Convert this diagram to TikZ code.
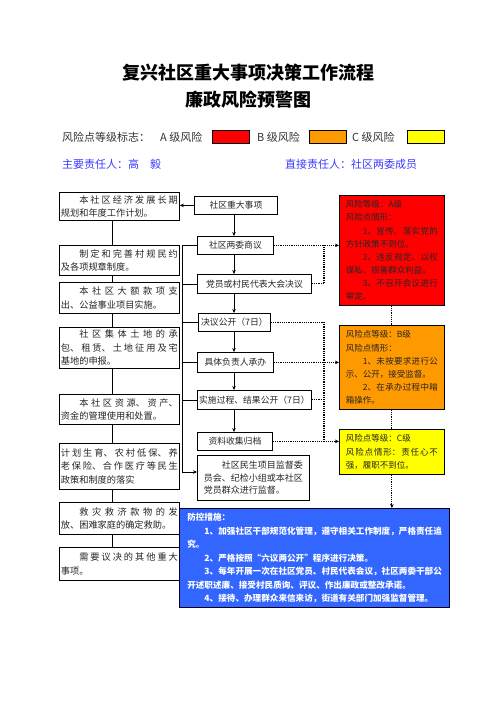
\documentclass[tikz,border=0pt]{standalone}
\usepackage{fontspec}
\setmainfont{Noto Sans CJK SC}
\usetikzlibrary{arrows.meta}
\XeTeXlinebreaklocale "zh"
\XeTeXlinebreakskip=0pt plus 3pt
\definecolor{riskA}{RGB}{255,0,0}
\definecolor{riskB}{RGB}{255,153,0}
\definecolor{riskC}{RGB}{255,255,0}
\definecolor{blueblock}{RGB}{51,102,255}
\definecolor{leadblue}{RGB}{60,60,255}
\tikzset{
  lbox/.style={draw, line width=0.8pt, fill=white, anchor=north west, inner xsep=1.5pt, inner ysep=0pt,
    minimum width=120, text width=117, align=justify, font=\fontsize{9.2}{13.5}\selectfont, text=black!85},
  mbox/.style={draw, line width=0.8pt, fill=white, anchor=north west, inner sep=0pt, align=center,
    font=\fontsize{8.8}{12}\selectfont, text=black!85},
  rbox/.style={draw, line width=0.8pt, anchor=north west, inner xsep=6.5pt, inner ysep=0pt,
    minimum width=105, text width=92, align=justify, font=\fontsize{8.5}{13.1}\selectfont, text=black!85},
  legbox/.style={draw, line width=0.8pt, anchor=north west, minimum width=37, minimum height=13, inner sep=0pt},
  legtext/.style={anchor=west, inner sep=0pt, font=\fontsize{11}{13}\selectfont, text=black!80},
  leadtext/.style={anchor=west, inner sep=0pt, font=\fontsize{11}{13}\selectfont, text=leadblue},
  conn/.style={line width=0.8pt},
  arr/.style={-{Stealth[length=4pt,width=3.5pt]}, line width=0.8pt},
  dotline/.style={line width=1.1pt, dash pattern=on 1.1pt off 1.1pt},
}
\begin{document}
\begin{tikzpicture}[x=1pt,y=-1pt]
\useasboundingbox (0,0) rectangle (496,702);
\fill[white] (0,0) rectangle (496,702);

% title
\node[font=\fontsize{18}{22}\bfseries, inner sep=0pt] (t1) at (248,73) {复兴社区重大事项决策工作流程};
\node[font=\fontsize{18}{22}\bfseries, inner sep=0pt] (t2) at (248,100) {廉政风险预警图};

% legend
\node[legtext] (lg0) at (62,137) {风险点等级标志：};
\node[legtext] (lgA) at (160,137) {A 级风险};
\node[legbox, fill=riskA] (bxA) at (212,130) {};
\node[legtext] (lgB) at (257,137) {B 级风险};
\node[legbox, fill=riskB] (bxB) at (309,130) {};
\node[legtext] (lgC) at (352,137) {C 级风险};
\node[legbox, fill=riskC] (bxC) at (407,130) {};
\node[leadtext] (lead1) at (62,164) {主要责任人：高　毅};
\node[leadtext] (lead2) at (285,164) {直接责任人：社区两委成员};

% left column
\node[lbox, minimum height=28] (L1) at (59,192) {\hspace*{2em}本社区经济发展长期\linebreak 规划和年度工作计划。};
\node[lbox, minimum height=30] (L2) at (59,245) {\hspace*{2em}制定和完善村规民约\linebreak 及各项规章制度。};
\node[lbox, minimum height=31] (L3) at (59,282) {\hspace*{2em}本社区大额款项支\linebreak 出、公益事业项目实施。};
\node[lbox, minimum height=41] (L4) at (59,327) {\hspace*{2em}社区集体土地的承\linebreak 包、租赁、土地征用及宅\linebreak 基地的申报。};
\node[lbox, minimum height=30] (L5) at (59,394) {\hspace*{2em}本社区资源、资产、\linebreak 资金的管理使用和处置。};
\node[lbox, minimum height=46] (L6) at (59,443) {计划生育、农村低保、养\linebreak 老保险、合作医疗等民生\linebreak 政策和制度的落实};
\node[lbox, minimum height=32] (L7) at (59,502) {\hspace*{2em}救灾救济款物的发\linebreak 放、困难家庭的确定救助。};
\node[lbox, minimum height=33] (L8) at (59,547) {\hspace*{2em}需要议决的其他重大\linebreak 事项。};

% middle column
\node[mbox, minimum width=83, minimum height=18] (M1) at (194,196) {社区重大事项};
\node[mbox, minimum width=76, minimum height=18] (M2) at (197,236) {社区两委商议};
\node[mbox, minimum width=114, minimum height=19] (M3) at (197,274) {党员或村民代表大会决议};
\node[mbox, minimum width=72, minimum height=18] (M4) at (198,313) {决议公开（7日）};
\node[mbox, minimum width=76, minimum height=20] (M5) at (197,352) {具体负责人承办};
\node[mbox, minimum width=114, minimum height=19] (M6) at (197,390) {实施过程、结果公开（7日）};
\node[mbox, minimum width=75, minimum height=18] (M7) at (197,432) {资料收集归档};
\node[lbox, minimum width=112, text width=99, inner xsep=6.5pt, minimum height=45,
  font=\fontsize{9}{12.5}\selectfont] (M8) at (197,455) {\hspace*{2em}社区民生项目监督委\linebreak 员会、纪检小组或本社区\linebreak 党员群众进行监督。};

% right column
\node[rbox, fill=riskA, minimum height=110] (R1) at (339,195) {风险等级：A级\\风险点情形：\\\hspace*{2em}1、宣传、落实党的\linebreak 方针政策不到位。\\\hspace*{2em}2、违反规定、以权\linebreak 谋私、损害群众利益。\\\hspace*{2em}3、不召开会议进行\linebreak 审定。};
\node[rbox, fill=riskB, minimum height=84] (R2) at (339,325) {风险点等级：B级\\风险点情形：\\\hspace*{2em}1、未按要求进行公\linebreak 示、公开，接受监督。\\\hspace*{2em}2、在承办过程中暗\linebreak 箱操作。};
\node[rbox, fill=riskC, minimum height=45] (R3) at (339,429) {风险点等级：C级\\风险点情形：责任心不\linebreak 强，履职不到位。};

% bottom blue box
\node[draw=black!85!blue, line width=1.2pt, fill=blueblock, anchor=north west, minimum width=270, minimum height=99,
  inner xsep=6pt, inner ysep=0pt, align=left, text=white, font=\fontsize{8.6}{13.5}\selectfont\bfseries] (B) at (179,508)
  {防控措施：\\
   \hspace*{2em}1、加强社区干部规范化管理，遵守相关工作制度，严格责任追\\
   究。\\
   \hspace*{2em}2、严格按照“六议两公开”程序进行决策。\\
   \hspace*{2em}3、每年开展一次在社区党员、村民代表会议，社区两委干部公\\
   开述职述廉、接受村民质询、评议、作出廉政或整改承诺。\\
   \hspace*{2em}4、接待、办理群众来信来访，街道有关部门加强监督管理。};

% left column connectors
\coordinate (lx) at (112,0);
\draw[conn] (L1.south -| lx) -- (L2.north -| lx);
\draw[conn] (L2.south -| lx) -- (L3.north -| lx);
\draw[conn] (L3.south -| lx) -- (L4.north -| lx);
\draw[conn] (L4.south -| lx) -- (L5.north -| lx);
\draw[conn] (L5.south -| lx) -- (L6.north -| lx);
\draw[conn] (L6.south -| lx) -- (L7.north -| lx);
\draw[conn] (L7.south -| lx) -- (L8.north -| lx);

% middle flow
\coordinate (mx) at (234,0);
\draw[arr] (M1.south -| mx) -- (M2.north -| mx);
\draw[arr] (M2.south -| mx) -- (M3.north -| mx);
\draw[arr] (M3.south -| mx) -- (M4.north -| mx);
\draw[arr] (M4.south -| mx) -- (M5.north -| mx);
\draw[arr] (M5.south -| mx) -- (M6.north -| mx);
\draw[arr] (M6.south -| mx) -- (M7.north -| mx);

% to left column
\draw[arr] (M1.west) -- (M1.west -| L1.east);
\coordinate (bx) at (182,472);
\draw[conn] (M2.west) -- (M2.west -| bx) -- (bx);
\draw[conn] (M3.west) -- (M3.west -| bx);
\draw[conn] (M4.west) -- (M4.west -| bx);
\draw[conn] (M5.west) -- (M5.west -| bx);
\draw[conn] (M6.west) -- (M6.west -| bx);
\draw[arr] (bx) -- (bx -| M8.west);

% dotted risk connectors
\coordinate (rx) at (324,0);
\draw[dotline, -{Stealth[length=4pt,width=3.5pt]}] (M2.east) -- (M2.east -| R1.west);
\draw[dotline] (M3.east) -- (M3.east -| rx) -- (rx |- M2.east);
\draw[dotline] (M4.east) -- (M4.east -| rx) -- (rx |- M7.east);
\draw[dotline, -{Stealth[length=4pt,width=3.5pt]}] (M5.east) -- (M5.east -| R2.west);
\draw[dotline] (M6.east) -- (M6.east -| rx);
\draw[dotline, -{Stealth[length=4pt,width=3.5pt]}] (M7.east) -- (M7.east -| R3.west);
\draw[dotline] (R1.south) -- (R2.north);
\draw[dotline] (R2.south) -- (R3.north);
\draw[dotline, -{Stealth[length=4pt,width=3.5pt]}] (R3.south) -- (R3.south |- B.north);
\end{tikzpicture}
\end{document}
